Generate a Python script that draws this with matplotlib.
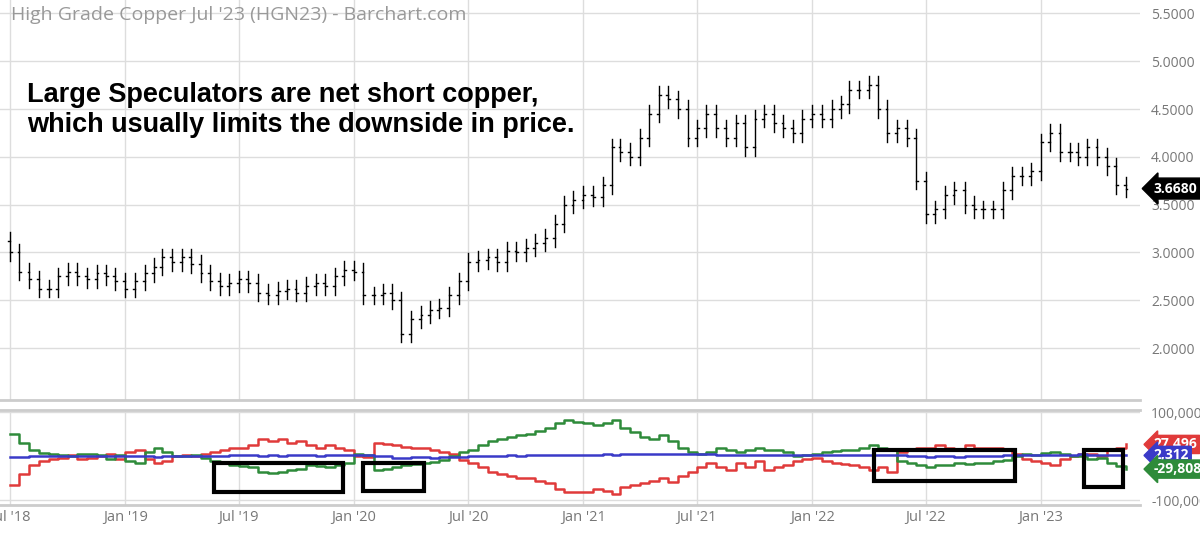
import matplotlib
matplotlib.use("Agg")
import matplotlib.pyplot as plt
import matplotlib.dates as mdates
import numpy as np
import pandas as pd

plt.rcParams['font.family'] = ['Open Sans', 'DejaVu Sans']

# semi-monthly closes, Jul 2018 .. May 2023
closes = [3.00, 2.80, 2.72, 2.62, 2.62, 2.75, 2.80, 2.75, 2.72, 2.78, 2.75, 2.70,
          2.62, 2.70, 2.78, 2.85, 2.95, 2.90, 2.95, 2.88, 2.78, 2.70, 2.65, 2.68,
          2.72, 2.68, 2.58, 2.55, 2.60, 2.62, 2.58, 2.65, 2.68, 2.65, 2.75, 2.82,
          2.80, 2.55, 2.55, 2.58, 2.50, 2.15, 2.30, 2.35, 2.40, 2.42, 2.55, 2.70,
          2.90, 2.92, 2.95, 2.90, 3.02, 3.00, 3.05, 3.10, 3.15, 3.30, 3.50, 3.55,
          3.60, 3.58, 3.70, 4.10, 4.05, 4.00, 4.20, 4.45, 4.65, 4.60, 4.50, 4.20,
          4.30, 4.45, 4.30, 4.20, 4.35, 4.10, 4.40, 4.45, 4.35, 4.30, 4.25, 4.40,
          4.45, 4.40, 4.50, 4.55, 4.70, 4.70, 4.75, 4.50, 4.25, 4.30, 4.20, 3.75,
          3.40, 3.45, 3.60, 3.65, 3.50, 3.45, 3.45, 3.45, 3.65, 3.80, 3.80, 3.85,
          4.15, 4.25, 4.05, 4.05, 4.00, 4.10, 4.00, 3.90, 3.70, 3.668]
opens = [3.12] + closes[:-1]

commercials = [-65, -40, -20, -10, -5, -3, 2, -5, -3, 0, 5, -5,
               10, 15, -5, -15, -10, 0, 2, 0, 5, 10, 15, 18,
               18, 25, 40, 35, 40, 30, 35, 25, 20, 25, 20, 15,
               0, -2, 30, 28, 26, 22, 20, 18, 15, 10, 5, -8,
               -15, -25, -35, -40, -45, -50, -50, -55, -60, -75, -82, -80,
               -80, -75, -78, -85, -70, -65, -60, -55, -50, -58, -45, -35,
               -25, -15, -25, -30, -15, -25, -10, -30, -25, -20, -10, -5,
               -3, -10, -15, -18, -20, -25, -30, -25, -35, 10, 15, 20,
               20, 25, 20, 15, 25, 20, 20, 20, 15, 5, -5, -10,
               -15, -20, -5, 0, 5, 5, 0, 15, 20, 27.496]
large_specs = [50, 30, 15, 8, 5, 3, 0, 5, 5, 3, -5, 3,
               -10, -15, 10, 18, 10, 0, 0, 2, -3, -10, -15, -20,
               -22, -25, -35, -38, -35, -30, -28, -20, -22, -25, -20, -15,
               5, 2, -30, -28, -25, -20, -18, -15, -12, -8, 0, 10,
               15, 25, 35, 40, 45, 48, 50, 58, 65, 75, 82, 78,
               75, 72, 76, 82, 65, 55, 45, 40, 48, 35, 20, 10,
               5, 10, 20, 15, 10, 15, 20, 15, 15, 10, 0, 2,
               5, 10, 12, 15, 15, 20, 25, 20, 15, -10, -15, -20,
               -25, -20, -20, -15, -18, -15, -15, -10, -8, 0, 5, 3,
               8, 10, 5, 0, 0, -5, -3, -15, -22, -29.808]
small_specs = [-2, -1, 0, 0, 1, 0, 0, 1, 0, 0, 1, 0,
               0, 1, 0, -1, 0, 0, 1, 0, 0, 0, 1, 2,
               3, 2, 1, 2, 1, 2, 3, 2, 1, 2, 3, 2,
               2, 3, 1, 0, -3, -4, -2, -2, -3, -2, -1, -1,
               0, 0, 1, 1, 2, 1, 2, 3, 4, 4, 4, 3,
               4, 4, 5, 4, 5, 5, 5, 6, 6, 5, 6, 5,
               6, 5, 4, 3, 3, 2, 3, 4, 4, 3, 3, 2,
               2, 3, 3, 4, 4, 3, 3, 4, 3, 2, 1, 0,
               -1, 0, 0, -1, 0, 0, 1, 1, 2, 2, 2, 3,
               3, 4, 4, 4, 5, 4, 4, 3, 3, 2.312]

months = pd.date_range("2018-07-01", "2023-05-01", freq="MS")
dates = []
for m in months:
    dates.append(m)
    dates.append(m + pd.Timedelta(days=15))
dates = pd.to_datetime(dates)

boxes = [("2019-05-22", "2019-12-15", -82, -16), ("2020-01-15", "2020-04-22", -78, -16),
         ("2022-04-10", "2022-11-20", -55, 14), ("2023-03-10", "2023-05-12", -70, 14)]

fig = plt.figure(figsize=(12, 5.34), dpi=100)
ax = fig.add_axes([0, 0.251, 0.95, 0.749])
ax2 = fig.add_axes([0, 0.054, 0.95, 0.178], sharex=ax)

gray = "#777777"
xn = mdates.date2num(dates)
for x, o, c in zip(xn, opens, closes):
    lo, hi = min(o, c) - 0.09, max(o, c) + 0.09
    ax.plot([x, x], [lo, hi], color="black", lw=1)
    ax.plot([x - 3, x], [o, o], color="black", lw=1)
    ax.plot([x, x + 3], [c, c], color="black", lw=1)

ax.set_ylim(1.457, 5.64)
ax.set_yticks(np.arange(2.0, 5.51, 0.5))
ax.yaxis.tick_right()
ax.yaxis.set_major_formatter(matplotlib.ticker.FormatStrFormatter("%.4f"))
ax.text(0.01, 0.985, "High Grade Copper Jul '23 (HGN23) - Barchart.com", transform=ax.transAxes,
        color="#999999", fontsize=14, va="top")
ax.text(0.024, 0.795, "Large Speculators are net short copper,\nwhich usually limits the downside in price.",
        transform=ax.transAxes, fontsize=19.5, fontweight="bold", va="top", linespacing=1.2,
        family="Liberation Sans")
ax.text(1.012, 3.668, "3.6680", transform=ax.get_yaxis_transform(), color="white", fontsize=10,
        fontweight="bold", va="center", bbox=dict(boxstyle="larrow,pad=0.25", fc="black", ec="black"))

ax2.step(dates, commercials, where="post", color="#e03a3a", lw=1.8)
ax2.step(dates, large_specs, where="post", color="#2e8b3a", lw=1.8)
ax2.step(dates, small_specs, where="post", color="#3a3ac8", lw=1.8)
ax2.set_ylim(-111, 105)
ax2.set_yticks([-100, 100])
ax2.set_yticklabels(["-100,000", "100,000"])
ax2.yaxis.tick_right()
for yv, s, col in [(27, "27,496", "#e03a3a"), (2, "2,312", "#3a3ac8"), (-29, "-29,808", "#2e8b3a")]:
    ax2.text(1.012, yv, s, transform=ax2.get_yaxis_transform(), color="white", fontsize=10,
             fontweight="bold", va="center", bbox=dict(boxstyle="larrow,pad=0.15", fc=col, ec=col))
for d0, d1, y0, y1 in boxes:
    x0, x1 = mdates.date2num(pd.Timestamp(d0)), mdates.date2num(pd.Timestamp(d1))
    ax2.add_patch(plt.Rectangle((x0, y0), x1 - x0, y1 - y0, fill=False, ec="black", lw=3, zorder=5))

ax.set_xlim(mdates.date2num(pd.Timestamp("2018-06-15")), mdates.date2num(pd.Timestamp("2023-06-08")))
ticks = pd.date_range("2018-07-01", "2023-01-01", freq="6MS")
ax2.set_xticks(ticks)
ax2.set_xticklabels([t.strftime("%b '%y") for t in ticks])
plt.setp(ax.get_xticklabels(), visible=False)

for a in (ax, ax2):
    a.grid(True, color="#dddddd", lw=1)
    a.tick_params(length=0, colors=gray, labelsize=10.5)
    for s in a.spines.values():
        s.set_visible(False)
    a.spines["bottom"].set_visible(True)
    a.spines["bottom"].set_color("#cccccc")
    a.spines["bottom"].set_linewidth(2)
ax2.spines["top"].set_visible(True)
ax2.spines["top"].set_color("#cccccc")
ax2.spines["top"].set_linewidth(2)
ax.tick_params(axis="y", pad=8, labelsize=10)
ax2.tick_params(axis="y", pad=8, labelsize=10)

fig.savefig("out.png", dpi=100)
